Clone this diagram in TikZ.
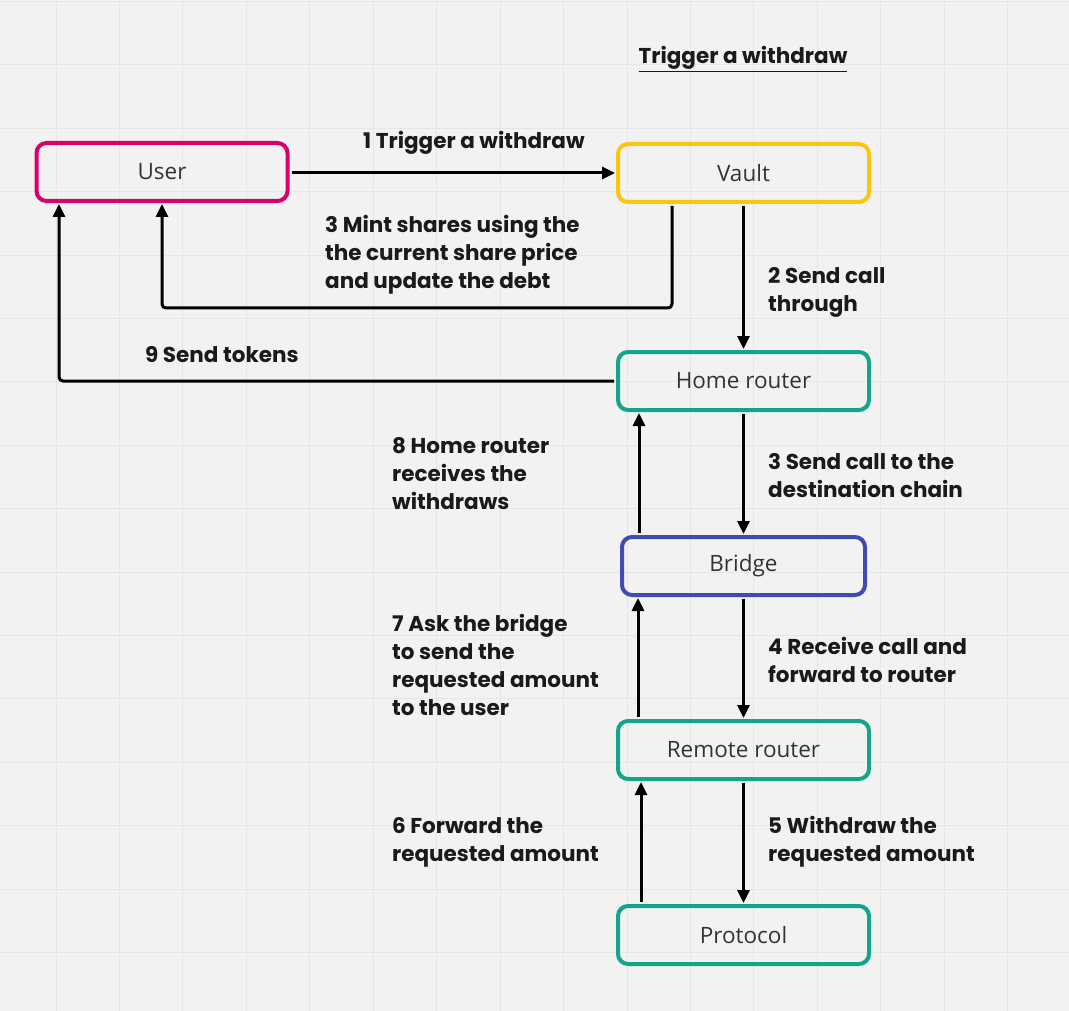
\documentclass[tikz,border=0pt]{standalone}
\usepackage{fontspec}
\setmainfont{Open Sans}
\newfontfamily\labfont{Poppins}
\usetikzlibrary{arrows.meta}
\definecolor{bgc}{HTML}{F2F2F2}
\definecolor{gridc}{HTML}{E6E6E6}
\definecolor{pinkc}{RGB}{218,0,108}
\definecolor{yellowc}{HTML}{FAC710}
\definecolor{greenc}{RGB}{18,165,137}
\definecolor{bluec}{HTML}{414BB2}
\definecolor{txtc}{HTML}{333333}
\definecolor{labc}{HTML}{1A1A1A}
\begin{document}
\begin{tikzpicture}[x=1pt,y=-1pt,
  box/.style={draw, line width=4pt, rounded corners=10pt, minimum width=251pt, minimum height=58pt,
    text=txtc, font=\fontsize{22.5}{26}\selectfont, inner sep=0pt},
  lab/.style={anchor=west, inner sep=0pt, align=left, text=labc,
    font=\labfont\bfseries\fontsize{21.5}{28}\selectfont},
  arr/.style={line width=3pt, -{Triangle[length=13pt,width=12pt]}, shorten >=1pt, shorten <=2pt, rounded corners=4pt}
]
\fill[bgc] (0,0) rectangle (1069,1011);
\useasboundingbox (0,0) rectangle (1069,1011);
\foreach \i in {-1,...,16} {\draw[gridc, line width=1pt] ({56+63.45*\i},0) -- ({56+63.45*\i},1011);}
\foreach \j in {0,...,16} {\draw[gridc, line width=1pt] (0,{1.5+63.4*\j}) -- (1069,{1.5+63.4*\j});}

\node[box, draw=pinkc] (user) at (162,172) {User};
\node[box, draw=yellowc] (vault) at (743.5,173) {Vault};
\node[box, draw=greenc] (home) at (743.5,381) {Home router};
\node[box, draw=bluec, minimum width=243pt] (bridge) at (743.5,566) {Bridge};
\node[box, draw=greenc] (remote) at (743.5,750) {Remote router};
\node[box, draw=greenc] (proto) at (743.5,935) {Protocol};

\node[inner sep=0pt, text=labc, font=\labfont\bfseries\fontsize{21.5}{28}\selectfont] (title) at (743,59) {\underline{Trigger a withdraw}};

\coordinate (m3a) at (672,308);
\coordinate (m3b) at (162,308);
\coordinate (c9) at (59,381);
\coordinate (c8) at (639,0);
\coordinate (c7) at (638,0);
\coordinate (c6) at (641,0);

\draw[arr] (user.east |- vault.west) -- (vault.west);
\draw[arr] (vault.south -| m3a) |- (m3b) -- (user.south -| m3b);
\draw[arr] (vault.south) -- (home.north);
\draw[arr] (home.west) -| (user.south -| c9);
\draw[arr] (home.south) -- (bridge.north);
\draw[arr] (bridge.north -| c8) -- (home.south -| c8);
\draw[arr] (bridge.south) -- (remote.north);
\draw[arr] (remote.north -| c7) -- (bridge.south -| c7);
\draw[arr] (remote.south) -- (proto.north);
\draw[arr] (proto.north -| c6) -- (remote.south -| c6);

\node[lab] (l1) at (363,143) {1 Trigger a withdraw};
\node[lab] (l3m) at (325,255) {3 Mint shares using the\\the current share price\\and update the debt};
\node[lab] (l2) at (768,292) {2 Send call\\through};
\node[lab] (l9) at (145,355) {9 Send tokens};
\node[lab] (l8) at (392,474) {8 Home router\\receives the\\withdraws};
\node[lab] (l3) at (768,476) {3 Send call to the\\destination chain};
\node[lab] (l7) at (392,665) {7 Ask the bridge\\to send the\\requested amount\\to the user};
\node[lab] (l4) at (768,660) {4 Receive call and\\forward to router};
\node[lab] (l6) at (392,842) {6 Forward the\\requested amount};
\node[lab] (l5) at (768,842) {5 Withdraw the\\requested amount};
\end{tikzpicture}
\end{document}
